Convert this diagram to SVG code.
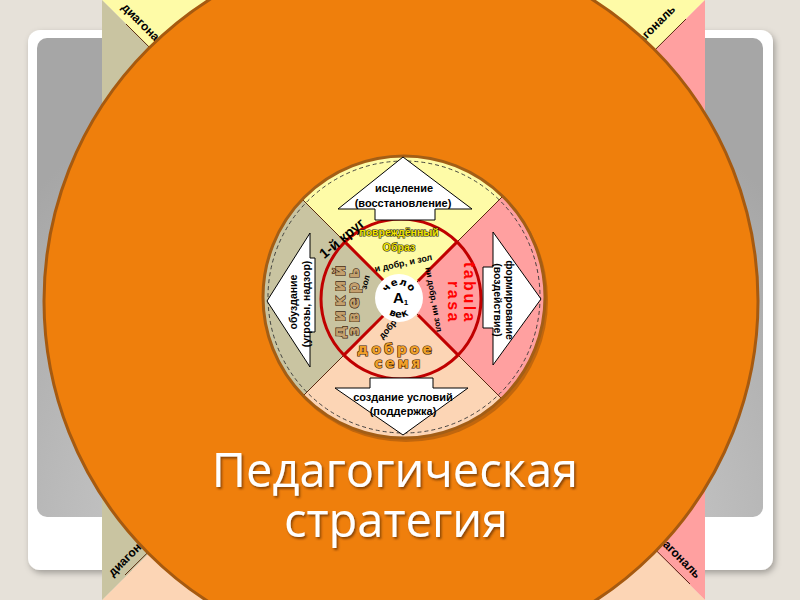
<svg xmlns="http://www.w3.org/2000/svg" width="800" height="600" viewBox="0 0 800 600">
<defs>
<style>
.lbl{font-family:"Liberation Sans",Arial,sans-serif;font-weight:bold;fill:#000;}
.nar{font-family:"Liberation Sans Narrow","Liberation Sans",Arial,sans-serif;font-weight:bold;fill:#000;}
.wide{font-family:"DejaVu Sans",sans-serif;font-weight:bold;}
.arrow{fill:#fff;stroke:#000;stroke-width:1;stroke-linejoin:miter;}
.qy{fill:#fefba7;}
.qp{fill:#ffa0a0;}
.qb{fill:#fcd5b5;}
.qt{fill:#c9c4a1;}
.thin{stroke:#5a2a10;stroke-width:1;fill:none;}
.redl{stroke:#c00000;stroke-width:3;fill:none;}
.diag{font-family:"Liberation Sans",Arial,sans-serif;font-weight:bold;font-size:12px;fill:#000;}
.title{font-family:"Open Sans","Liberation Sans",sans-serif;font-size:47px;fill:#fff;}
</style>
<radialGradient id="gray" cx="400" cy="560" r="520" gradientUnits="userSpaceOnUse">
<stop offset="0" stop-color="#e2e2e2"/><stop offset="1" stop-color="#a6a6a6"/>
</radialGradient>
<clipPath id="innerClip"><circle cx="404" cy="297" r="141"/></clipPath>
<filter id="fshadow" x="-10%" y="-10%" width="120%" height="120%">
<feDropShadow dx="2" dy="3" stdDeviation="3" flood-color="#000" flood-opacity="0.3"/>
</filter>
<filter id="tshadow" x="-10%" y="-20%" width="120%" height="140%">
<feDropShadow dx="1.5" dy="2" stdDeviation="1" flood-color="#5a2a00" flood-opacity="0.7"/>
</filter>
<path id="arcTop" d="M 386 298 A 13 13 0 0 1 412 298"/>
<path id="arcBot" d="M 379.5 298 A 19.5 19.5 0 0 0 418.5 298"/>
</defs>

<rect x="0" y="0" width="800" height="600" fill="#e6e1d9"/>
<g id="frame">
<rect x="28" y="30" width="745" height="540" rx="12" fill="#fff" filter="url(#fshadow)"/>
<rect x="37" y="38" width="726" height="479" rx="10" fill="url(#gray)"/>
</g>

<g id="big-square">
<polygon class="qy" points="102,0 705,0 403.5,300"/>
<polygon class="qp" points="705,0 705,600 403.5,300"/>
<polygon class="qb" points="705,600 102,600 403.5,300"/>
<polygon class="qt" points="102,600 102,0 403.5,300"/>
</g>

<g id="connectors">
<line class="thin" x1="126" y1="24" x2="403.5" y2="300"/>
<line class="thin" x1="686" y1="19" x2="403.5" y2="300"/>
<line class="thin" x1="125" y1="575" x2="403.5" y2="300"/>
<line class="thin" x1="690" y1="584" x2="403.5" y2="300"/>
</g>

<g id="diagonal-labels">
<text class="diag" transform="translate(121,8) rotate(45)">диагональ</text>
<text class="diag" text-anchor="end" transform="translate(676,10) rotate(-45)">диагональ</text>
<text class="diag" transform="translate(113,577) rotate(-45)">диагональ</text>
<text class="diag" text-anchor="end" transform="translate(696,579) rotate(45)">диагональ</text>
</g>

<g id="orange-circle">
<circle cx="401" cy="301" r="357" fill="#ef7f0c" stroke="#a65a10" stroke-width="3"/>
</g>

<g id="inner-circle">
<circle cx="406" cy="300" r="142" fill="#8a4a10" opacity="0.45"/>
<g clip-path="url(#innerClip)">
<polygon class="qy" points="201,98 601,98 401,298"/>
<polygon class="qp" points="601,98 601,498 401,298"/>
<polygon class="qb" points="601,498 201,498 401,298"/>
<polygon class="qt" points="201,498 201,98 401,298"/>
<line class="thin" x1="291" y1="188" x2="511" y2="408"/>
<line class="thin" x1="511" y1="188" x2="291" y2="408"/>
</g>
<circle cx="404" cy="297" r="141" fill="none" stroke="#a35e16" stroke-width="3"/>
<circle cx="404" cy="297" r="136" fill="none" stroke="#333" stroke-width="0.9" stroke-dasharray="4,3"/>
</g>

<g id="red-circle">
<line class="redl" x1="384" y1="281" x2="344.4" y2="241.4"/>
<line class="redl" x1="418" y1="281" x2="457.6" y2="241.4"/>
<line class="redl" x1="418" y1="315" x2="457.6" y2="354.6"/>
<line class="redl" x1="384" y1="315" x2="344.4" y2="354.6"/>
<circle cx="401" cy="299" r="80" fill="none" stroke="#c00000" stroke-width="3"/>
</g>

<g id="arrow-top">
<polygon class="arrow" points="403,157 472,209 435,209 435,220 375,220 375,209 338,209"/>
<text class="lbl" x="404" y="192" font-size="11" text-anchor="middle">исцеление</text>
<text class="lbl" x="403" y="207" font-size="11" text-anchor="middle">(восстановление)</text>
</g>
<g id="arrow-right">
<polygon class="arrow" points="541,299 493,365 493,328 483,328 483,267 493,267 493,232"/>
<text class="lbl" font-size="10.5" text-anchor="middle" transform="translate(506,300) rotate(90)">формирование</text>
<text class="lbl" font-size="10.5" text-anchor="middle" transform="translate(494,300) rotate(90)">(воздействие)</text>
</g>
<g id="arrow-bottom">
<polygon class="arrow" points="403,435 468,388 433,388 433,378 370,378 370,388 335,388"/>
<text class="lbl" x="403" y="401" font-size="11" text-anchor="middle">создание условий</text>
<text class="lbl" x="403" y="415" font-size="11" text-anchor="middle">(поддержка)</text>
</g>
<g id="arrow-left">
<polygon class="arrow" points="267,301 310,233 310,258 315,258 315,332 310,332 310,367"/>
<text class="lbl" font-size="10.5" text-anchor="middle" transform="translate(297,302) rotate(-90)">обуздание</text>
<text class="lbl" font-size="10.5" text-anchor="middle" transform="translate(310,304) rotate(-90)">(угрозы, надзор)</text>
</g>

<g id="circle-labels">
<text class="lbl" font-size="14" text-anchor="middle" transform="translate(345,242) rotate(-40)">1-й круг</text>
<text class="lbl" x="399" y="236" font-size="10.5" text-anchor="middle" stroke="#222" stroke-width="1.2" paint-order="stroke" style="fill:#f2e400">повреждённый</text>
<text class="lbl" x="399" y="251" font-size="10.5" text-anchor="middle" stroke="#222" stroke-width="1.2" paint-order="stroke" style="fill:#f2e400">Образ</text>
<text class="nar" font-size="9" text-anchor="middle" transform="translate(404,266) rotate(-12)">и добр, и зол</text>
<text class="nar" font-size="8.5" text-anchor="middle" transform="translate(431,300) rotate(80)">ни добр, ни зол</text>
<text class="nar" font-size="8.5" text-anchor="middle" transform="translate(368,283) rotate(-75)">зол</text>
<text class="nar" font-size="9" text-anchor="middle" transform="translate(390,331) rotate(-50)">добр</text>
<text class="wide" font-size="16" letter-spacing="4" text-anchor="middle" fill="#c4a06e" stroke="#3b2410" stroke-width="1.2" paint-order="stroke" transform="translate(345,300) rotate(-90)">дикий</text>
<text class="wide" font-size="16" letter-spacing="4" text-anchor="middle" fill="#c4a06e" stroke="#3b2410" stroke-width="1.2" paint-order="stroke" transform="translate(359,300) rotate(-90)">зверь</text>
<text class="lbl" font-size="16" letter-spacing="2.5" text-anchor="end" style="fill:#ff0000" transform="translate(464,324) rotate(90)">tabula</text>
<text class="lbl" font-size="16" letter-spacing="2.5" text-anchor="end" style="fill:#ff0000" transform="translate(448,324) rotate(90)">rasa</text>
<text class="wide" x="396" y="354" font-size="14" letter-spacing="3" text-anchor="middle" fill="#f0a02a" stroke="#3a2000" stroke-width="1.2" paint-order="stroke">доброе</text>
<text class="wide" x="399" y="368" font-size="13.5" letter-spacing="3" text-anchor="middle" fill="#f0a02a" stroke="#3a2000" stroke-width="1.2" paint-order="stroke">семя</text>
</g>

<g id="center">
<circle cx="399" cy="298" r="24" fill="#fff"/>
<text class="wide" font-size="10" letter-spacing="0.5" fill="#000" text-anchor="middle"><textPath href="#arcTop" startOffset="50%">чело</textPath></text>
<text class="wide" font-size="10" letter-spacing="0.5" fill="#000" text-anchor="middle"><textPath href="#arcBot" startOffset="50%">век</textPath></text>
<text class="lbl" x="393" y="303" font-size="15">А<tspan font-size="8" dy="2">1</tspan></text>
</g>

<g id="title" filter="url(#tshadow)">
<text class="title" x="395" y="487" text-anchor="middle">Педагогическая</text>
<text class="title" x="396" y="537" text-anchor="middle">стратегия</text>
</g>
</svg>
